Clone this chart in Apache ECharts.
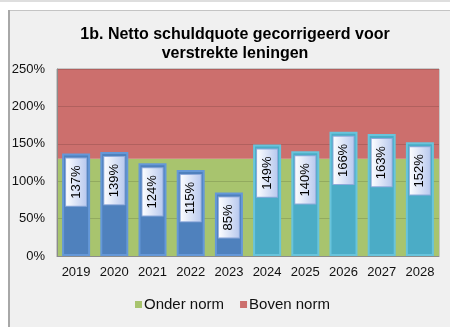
<!DOCTYPE html>
<html>
<head>
<meta charset="utf-8">
<script src="https://cdn.jsdelivr.net/npm/echarts@6/dist/echarts.min.js"></script>
<style>
  html, body { margin: 0; padding: 0; background: #f0f0f0; }
  #chart { width: 450px; height: 327px; }
</style>
</head>
<body>
<div id="chart"></div>
<script>
// Netto schuldquote per jaar (procenten)
const years = ['2019', '2020', '2021', '2022', '2023', '2024', '2025', '2026', '2027', '2028'];
const quote = [137, 139, 124, 115, 85, 149, 140, 166, 163, 152];
// realisatie t/m 2023, daarna begroting/meerjarenraming
const phase = ['real', 'real', 'real', 'real', 'real', 'plan', 'plan', 'plan', 'plan', 'plan'];
// normgrens en bovenkant van de as
const normLimit = 130;
const axisMax = 250;
const axisStep = 50;

const phaseFill = { real: '#4f81bd', plan: '#4bacc6' };
const phaseEdge = { real: '#6598d8', plan: '#68c4dc' };

const chart = echarts.init(document.getElementById('chart'), null, { renderer: 'canvas' });

const font = 'Liberation Sans, Arial, sans-serif';

chart.setOption({
  backgroundColor: '#f0f0f0',
  animation: false,
  graphic: [
    { type: 'rect', shape: { x: 0, y: 0, width: 450, height: 2 }, style: { fill: '#dedede' }, z: -1 },
    { type: 'rect', shape: { x: 0, y: 2, width: 450, height: 8 }, style: { fill: '#ffffff' }, z: -1 },
    { type: 'rect', shape: { x: 0, y: 10, width: 8, height: 317 }, style: { fill: '#ffffff' }, z: -1 },
    { type: 'rect', shape: { x: 8, y: 10, width: 442, height: 1 }, style: { fill: '#c4c4c4' }, z: -1 },
    { type: 'rect', shape: { x: 8, y: 10, width: 2, height: 317 }, style: { fill: '#a8a8a8' }, z: -1 }
  ],
  title: {
    text: '1b. Netto schuldquote gecorrigeerd voor\nverstrekte leningen',
    left: 235,
    top: 25,
    padding: 0,
    textAlign: 'center',
    textStyle: {
      fontFamily: font,
      fontSize: 16,
      fontWeight: 'bold',
      color: '#000',
      lineHeight: 19
    }
  },
  legend: {
    left: 135,
    top: 297,
    padding: 0,
    icon: 'rect',
    itemWidth: 7,
    itemHeight: 7,
    itemGap: 16,
    data: ['Onder norm', 'Boven norm'],
    textStyle: { fontFamily: font, fontSize: 15, color: '#111', padding: [0, 0, 0, -3] }
  },
  grid: {
    left: 57,
    right: 11,
    top: 69,
    bottom: 71,
    show: true,
    borderColor: '#a0a0a0',
    borderWidth: 1,
    backgroundColor: 'transparent'
  },
  xAxis: {
    type: 'category',
    data: years,
    axisLine: { lineStyle: { color: '#8c8c8c', width: 1 } },
    axisTick: { inside: true, length: 4, lineStyle: { color: '#8c8c8c' } },
    axisLabel: { fontFamily: font, fontSize: 13, color: '#111', margin: 10 },
    z: 2
  },
  yAxis: {
    type: 'value',
    min: 0,
    max: axisMax,
    interval: axisStep,
    axisLine: { show: true, lineStyle: { color: '#8c8c8c' } },
    axisTick: { show: false },
    axisLabel: {
      fontFamily: font,
      fontSize: 13,
      color: '#111',
      margin: 12,
      formatter: v => v + '%'
    },
    splitLine: { lineStyle: { color: 'rgba(0,0,0,0.13)', width: 1 } },
    z: 2
  },
  series: [
    {
      name: 'Onder norm',
      type: 'line',
      data: [],
      z: 1,
      itemStyle: { color: '#a8c46e' },
      lineStyle: { color: '#a8c46e' },
      markArea: {
        silent: true,
        z: 1,
        itemStyle: { color: '#a8c46e', opacity: 1 },
        data: [[{ yAxis: 0 }, { yAxis: normLimit }]]
      }
    },
    {
      name: 'Boven norm',
      type: 'line',
      data: [],
      z: 1,
      itemStyle: { color: '#cc6f6d' },
      lineStyle: { color: '#cc6f6d' },
      markArea: {
        silent: true,
        z: 1,
        itemStyle: { color: '#cc6f6d', opacity: 1 },
        data: [[{ yAxis: normLimit }, { yAxis: axisMax }]]
      }
    },
    {
      name: 'Schuldquote',
      type: 'bar',
      z: 3,
      barWidth: 28,
      data: quote.map((v, i) => ({
        value: v,
        itemStyle: {
          color: phaseFill[phase[i]],
          borderColor: phaseEdge[phase[i]],
          borderWidth: 2
        }
      })),
      label: {
        show: true,
        position: 'insideTop',
        distance: 5,
        rotate: 90,
        align: 'right',
        verticalAlign: 'middle',
        formatter: p => p.value + '%',
        fontFamily: font,
        fontSize: 13,
        lineHeight: 14,
        color: '#000',
        padding: [3, 7],
        borderColor: '#8eaadb',
        borderWidth: 1,
        backgroundColor: new echarts.graphic.LinearGradient(0, 0, 0, 1, [
          { offset: 0, color: '#ffffff' },
          { offset: 1, color: '#b7c8ee' }
        ])
      }
    }
  ]
});
</script>
</body>
</html>
